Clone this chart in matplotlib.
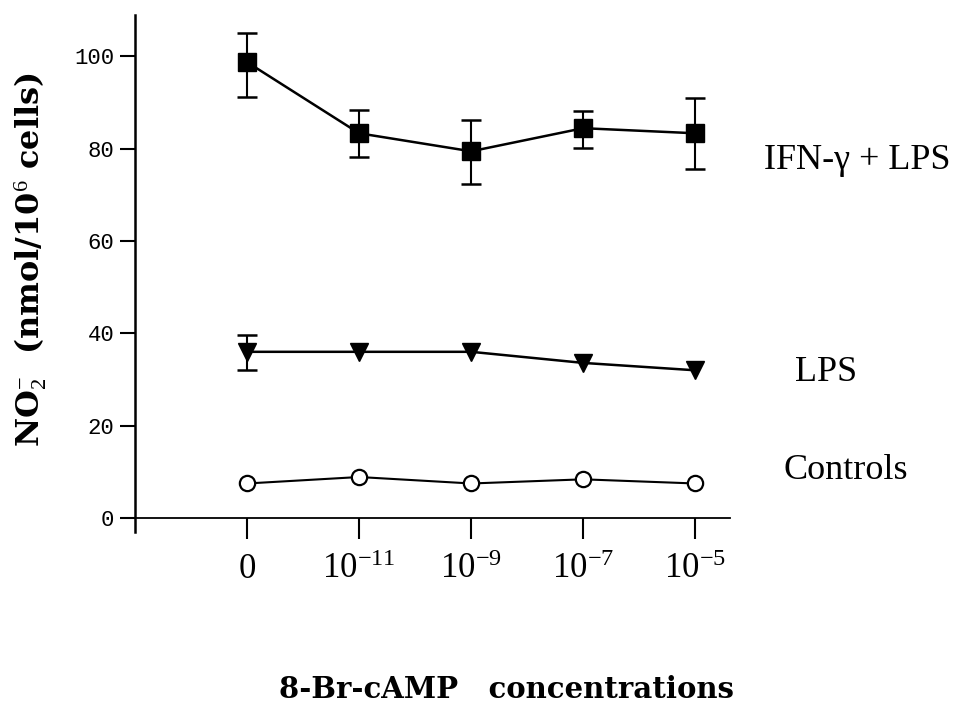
import numpy as np
import matplotlib
matplotlib.use("Agg")
import matplotlib.pyplot as plt

plt.rcParams['font.family'] = ['Liberation Serif', 'DejaVu Serif']
plt.rcParams['mathtext.fontset'] = 'custom'
plt.rcParams['mathtext.rm'] = 'Liberation Serif'
plt.rcParams['mathtext.it'] = 'Liberation Serif:italic'
plt.rcParams['mathtext.bf'] = 'DejaVu Serif:bold'

# data
conc_labels = ["0", r"10$^{-11}$", r"10$^{-9}$", r"10$^{-7}$", r"10$^{-5}$"]
ifn_lps = [98.7, 83.3, 79.4, 84.4, 83.3]
ifn_lps_lo = [91.1, 78.1, 72.3, 80.1, 75.5]
ifn_lps_hi = [105.0, 88.3, 86.1, 88.1, 90.9]
lps = [36.0, 36.0, 36.0, 33.6, 32.0]
lps_lo = [32.0]
lps_hi = [39.6]
controls = [7.5, 8.9, 7.5, 8.4, 7.5]

x = np.arange(len(conc_labels))

fig = plt.figure(figsize=(9.6, 7.03), dpi=100)
ax = fig.add_axes([122/960, 1 - 532/703, (730 - 122)/960, (532 - 15)/703])

ifn_err = [np.array(ifn_lps) - np.array(ifn_lps_lo), np.array(ifn_lps_hi) - np.array(ifn_lps)]
ax.errorbar(x, ifn_lps, yerr=ifn_err, color='black', lw=1.8, marker='s', ms=13,
            capsize=7, elinewidth=1.5, capthick=1.8)
ax.errorbar(x[:1], lps[:1], yerr=[[lps[0] - lps_lo[0]], [lps_hi[0] - lps[0]]], fmt='none',
            ecolor='black', capsize=7, elinewidth=1.5, capthick=1.8)
ax.plot(x, lps, color='black', lw=1.8, marker='v', ms=13)
ax.plot(x, controls, color='black', lw=1.5, marker='o', ms=11, mfc='white', mew=1.6)

ax.set_xlim(-1.116, 4.31)
ax.set_ylim(-3, 108.9)
ax.spines['top'].set_visible(False)
ax.spines['right'].set_visible(False)
ax.spines['left'].set_position(('data', -1.0))
ax.spines['bottom'].set_position(('data', 0))
ax.spines['left'].set_linewidth(1.8)
ax.spines['bottom'].set_linewidth(1.3)

ax.set_yticks([0, 20, 40, 60, 80, 100])
ax.tick_params(axis='y', direction='out', length=11, width=1.5, labelsize=16, pad=4)
for lab in ax.get_yticklabels():
    lab.set_fontfamily('Liberation Mono')
ax.set_xticks(x)
ax.set_xticklabels(conc_labels)
ax.tick_params(axis='x', direction='out', length=15, width=1.5, labelsize=25, pad=10)

ax.text(4.61, 77.5, "IFN-γ + LPS", fontsize=26, va='center', ha='left', clip_on=False)
ax.text(4.89, 31.6, "LPS", fontsize=26, va='center', ha='left', clip_on=False)
ax.text(4.79, 10.4, "Controls", fontsize=26, va='center', ha='left', clip_on=False)

fig.text(507/960, 1 - 690/703, "8-Br-cAMP   concentrations", fontsize=21,
         fontfamily='DejaVu Serif', fontweight='bold', ha='center', va='center')
fig.text(31/960, 1 - 260/703, r"NO$_2^{-}$  (nmol/10$^6$ cells)", fontsize=23,
         fontfamily='DejaVu Serif', fontweight='bold', ha='center', va='center', rotation=90)

fig.savefig("out.png", dpi=100)
